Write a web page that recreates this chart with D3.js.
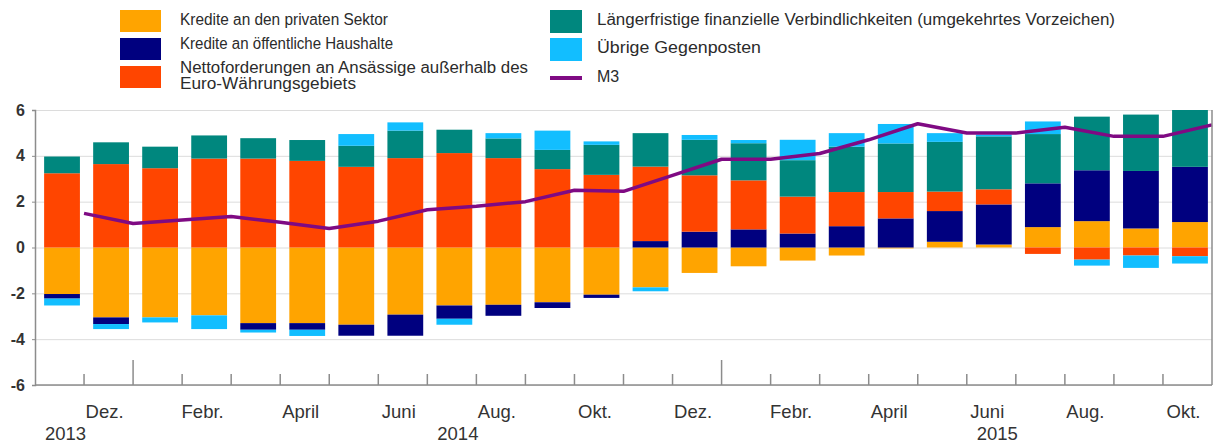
<!DOCTYPE html>
<html>

<head>
  <meta charset="utf-8">
  <title>M3 Gegenposten</title>
  <style>
    body {
      margin: 0;
      font-family: "Liberation Sans", Arial, sans-serif;
      background: #fff;
    }

    .legend text {
      font-size: 16px;
      fill: #2b2b2b;
    }

    .axis text {
      fill: #333;
    }
  </style>
</head>

<body>
  <script src="https://cdn.jsdelivr.net/npm/d3@7/dist/d3.min.js"></script>
  <script>
    // Monate Nov. 2013 - Okt. 2015
    var months = ["2013-11", "2013-12", "2014-01", "2014-02", "2014-03", "2014-04", "2014-05", "2014-06",
      "2014-07", "2014-08", "2014-09", "2014-10", "2014-11", "2014-12", "2015-01", "2015-02",
      "2015-03", "2015-04", "2015-05", "2015-06", "2015-07", "2015-08", "2015-09", "2015-10"];
    var monthLabels = ["", "Dez.", "", "Febr.", "", "April", "", "Juni", "", "Aug.", "", "Okt.",
      "", "Dez.", "", "Febr.", "", "April", "", "Juni", "", "Aug.", "", "Okt."];
    var yearLabels = ["2013", "2014", "2015"];
    var yearMonths = ["2013-11", "2014-07", "2015-06"];
    var yearBreaks = ["2013-12", "2014-12"];
    var yTicks = [-6, -4, -2, 0, 2, 4, 6];

    var privat = [-2.03, -3.05, -3.05, -2.96, -3.30, -3.30, -3.37, -2.93, -2.53, -2.50, -2.39, -2.06,
      -1.74, -1.11, -0.82, -0.57, -0.35, -0.04, 0.25, 0.13, 0.89, 1.15, 0.83, 1.11];
    var oeffentlich = [-0.20, -0.29, 0, 0, -0.29, -0.29, -0.48, -0.92, -0.58, -0.48, -0.25, -0.14,
      0.28, 0.69, 0.79, 0.61, 0.93, 1.27, 1.34, 1.75, 1.91, 2.22, 2.51, 2.41];
    var netto = [3.24, 3.64, 3.46, 3.88, 3.88, 3.78, 3.52, 3.90, 4.12, 3.90, 3.42, 3.17,
      3.25, 2.46, 2.14, 1.61, 1.49, 1.15, 0.85, 0.66, -0.28, -0.53, -0.35, -0.38];
    var laenger = [0.73, 0.95, 0.94, 1.01, 0.89, 0.91, 0.92, 1.20, 1.02, 0.86, 0.84, 1.31,
      1.46, 1.55, 1.62, 1.59, 1.98, 2.12, 2.17, 2.31, 2.15, 2.34, 2.46, 2.48];
    var uebrige = [-0.30, -0.22, -0.22, -0.60, -0.12, -0.27, 0.51, 0.36, -0.26, 0.23, 0.84, 0.15,
      -0.17, 0.21, 0.14, 0.89, 0.59, 0.85, 0.38, 0.08, 0.55, -0.26, -0.54, -0.32];
    var m3 = [1.49, 1.05, 1.20, 1.35, 1.10, 0.83, 1.15, 1.65, 1.80, 2.00, 2.50, 2.45,
      3.15, 3.85, 3.85, 4.10, 4.70, 5.40, 5.00, 5.00, 5.25, 4.85, 4.85, 5.35];

    var keys = ["privat", "oeffentlich", "netto", "laenger", "uebrige"];
    var names = ["Kredite an den privaten Sektor", "Kredite an öffentliche Haushalte",
      "Nettoforderungen an Ansässige außerhalb des", "Längerfristige finanzielle Verbindlichkeiten (umgekehrtes Vorzeichen)",
      "Übrige Gegenposten"];
    var colors = ["#ffa400", "#00007f", "#ff4500", "#00877e", "#12beff"];
    var m3Color = "#7f0a83";

    var width = 1213, height = 443;
    var plot = { left: 35, right: 1212, top: 110, bottom: 385 };
    var barShift = 2.5;

    var table = months.map(function (m, i) {
      return {
        month: m, privat: privat[i], oeffentlich: oeffentlich[i], netto: netto[i],
        laenger: laenger[i], uebrige: uebrige[i], m3: m3[i]
      };
    });

    var svg = d3.select("body").append("svg")
      .attr("width", width)
      .attr("height", height);

    var x = d3.scaleBand()
      .domain(months)
      .range([plot.left, plot.right])
      .paddingInner(0.27)
      .paddingOuter(0.135);
    var step = x.step();

    var y = d3.scaleLinear()
      .domain([-6, 6])
      .range([plot.bottom, plot.top]);

    // Gitterlinien
    svg.append("g")
      .selectAll("line")
      .data(yTicks)
      .join("line")
      .attr("x1", plot.left)
      .attr("x2", plot.right)
      .attr("y1", d => y(d) + 0.5)
      .attr("y2", d => y(d) + 0.5)
      .attr("stroke", "#dcdcdc")
      .attr("stroke-width", 1);

    // Balken
    var series = d3.stack()
      .keys(keys)
      .offset(d3.stackOffsetDiverging)(table);

    svg.append("g")
      .selectAll("g")
      .data(series)
      .join("g")
      .attr("fill", (d, i) => colors[i])
      .selectAll("rect")
      .data(d => d)
      .join("rect")
      .attr("x", d => x(d.data.month) + barShift)
      .attr("width", x.bandwidth())
      .attr("y", d => y(Math.max(d[0], d[1])))
      .attr("height", d => Math.abs(y(d[0]) - y(d[1])));

    // M3 Linie (am Monatsende)
    var line = d3.line()
      .x(d => x(d.month) + x.bandwidth() / 2 + step / 2)
      .y(d => y(d.m3));

    svg.append("path")
      .datum(table)
      .attr("d", line)
      .attr("fill", "none")
      .attr("stroke", m3Color)
      .attr("stroke-width", 3.5)
      .attr("stroke-linejoin", "round");

    // Achsen
    var axisColor = "#8c8c8c";
    var yAxis = svg.append("g")
      .attr("class", "axis")
      .attr("transform", "translate(" + plot.left + ",0)")
      .call(d3.axisLeft(y).tickValues(yTicks).tickSize(3).tickPadding(7).tickFormat(d => String(d)));
    yAxis.select(".domain").attr("stroke", axisColor).attr("stroke-width", 1.5);
    yAxis.selectAll(".tick line").attr("stroke", axisColor);
    yAxis.selectAll("text")
      .style("font-size", "16px")
      .style("font-weight", "bold")
      .attr("fill", "#444")
      .attr("font-family", "Liberation Sans");

    svg.append("line")
      .attr("x1", plot.right).attr("x2", plot.right)
      .attr("y1", plot.top).attr("y2", plot.bottom)
      .attr("stroke", axisColor)
      .attr("stroke-width", 1.5);

    svg.append("line")
      .attr("x1", plot.left).attr("x2", plot.right)
      .attr("y1", plot.bottom).attr("y2", plot.bottom)
      .attr("stroke", axisColor)
      .attr("stroke-width", 1.5);

    // Monatsgrenzen als Striche nach oben
    svg.append("g")
      .selectAll("line")
      .data(months.slice(0, months.length - 1))
      .join("line")
      .attr("x1", d => x(d) + x.bandwidth() / 2 + step / 2)
      .attr("x2", d => x(d) + x.bandwidth() / 2 + step / 2)
      .attr("y1", plot.bottom)
      .attr("y2", d => yearBreaks.indexOf(d) >= 0 ? plot.bottom - 25 : plot.bottom - 11)
      .attr("stroke", axisColor)
      .attr("stroke-width", 1.5);

    var labels = svg.append("g").attr("class", "axis");
    labels.selectAll("text.month")
      .data(months.filter((m, i) => monthLabels[i] != ""))
      .join("text")
      .attr("class", "month")
      .attr("x", d => x(d) + x.bandwidth() / 2 - 4)
      .attr("y", 418)
      .attr("text-anchor", "middle")
      .style("font-size", "18.5px")
      .text(d => monthLabels[months.indexOf(d)]);

    labels.selectAll("text.year")
      .data(yearLabels)
      .join("text")
      .attr("class", "year")
      .attr("x", (d, i) => x(yearMonths[i]) + x.bandwidth() / 2 + 6)
      .attr("y", 440)
      .attr("text-anchor", "middle")
      .style("font-size", "18.5px")
      .text(d => d);

    // Legende
    var legend = svg.append("g").attr("class", "legend");
    var leftRows = [
      { key: 0, y: 10, text: [names[0]], base: [25], len: [208] },
      { key: 1, y: 38, text: [names[1]], base: [49], len: [213] },
      { key: 2, y: 66, text: [names[2], "Euro-Währungsgebiets"], base: [73, 89], len: [348, 176] }
    ];
    var rightRows = [
      { key: 3, y: 10, text: [names[3]], base: [25], len: [518] },
      { key: 4, y: 38, text: [names[4]], base: [53], len: [164] }
    ];

    leftRows.forEach(function (r) {
      legend.append("rect")
        .attr("x", 120).attr("y", r.y)
        .attr("width", 41).attr("height", 22)
        .attr("fill", colors[r.key]);
      r.text.forEach(function (t, j) {
        legend.append("text").attr("x", 180).attr("y", r.base[j])
          .attr("textLength", r.len[j]).attr("lengthAdjust", "spacingAndGlyphs")
          .text(t);
      });
    });

    rightRows.forEach(function (r) {
      legend.append("rect")
        .attr("x", 550).attr("y", r.y)
        .attr("width", 32).attr("height", 23)
        .attr("fill", colors[r.key]);
      r.text.forEach(function (t, j) {
        legend.append("text").attr("x", 597).attr("y", r.base[j])
          .attr("textLength", r.len[j]).attr("lengthAdjust", "spacingAndGlyphs")
          .text(t);
      });
    });

    legend.append("line")
      .attr("x1", 550).attr("x2", 582)
      .attr("y1", 78).attr("y2", 78)
      .attr("stroke", m3Color)
      .attr("stroke-width", 4);
    legend.append("text").attr("x", 597).attr("y", 82).text("M3");
  </script>
</body>

</html>
